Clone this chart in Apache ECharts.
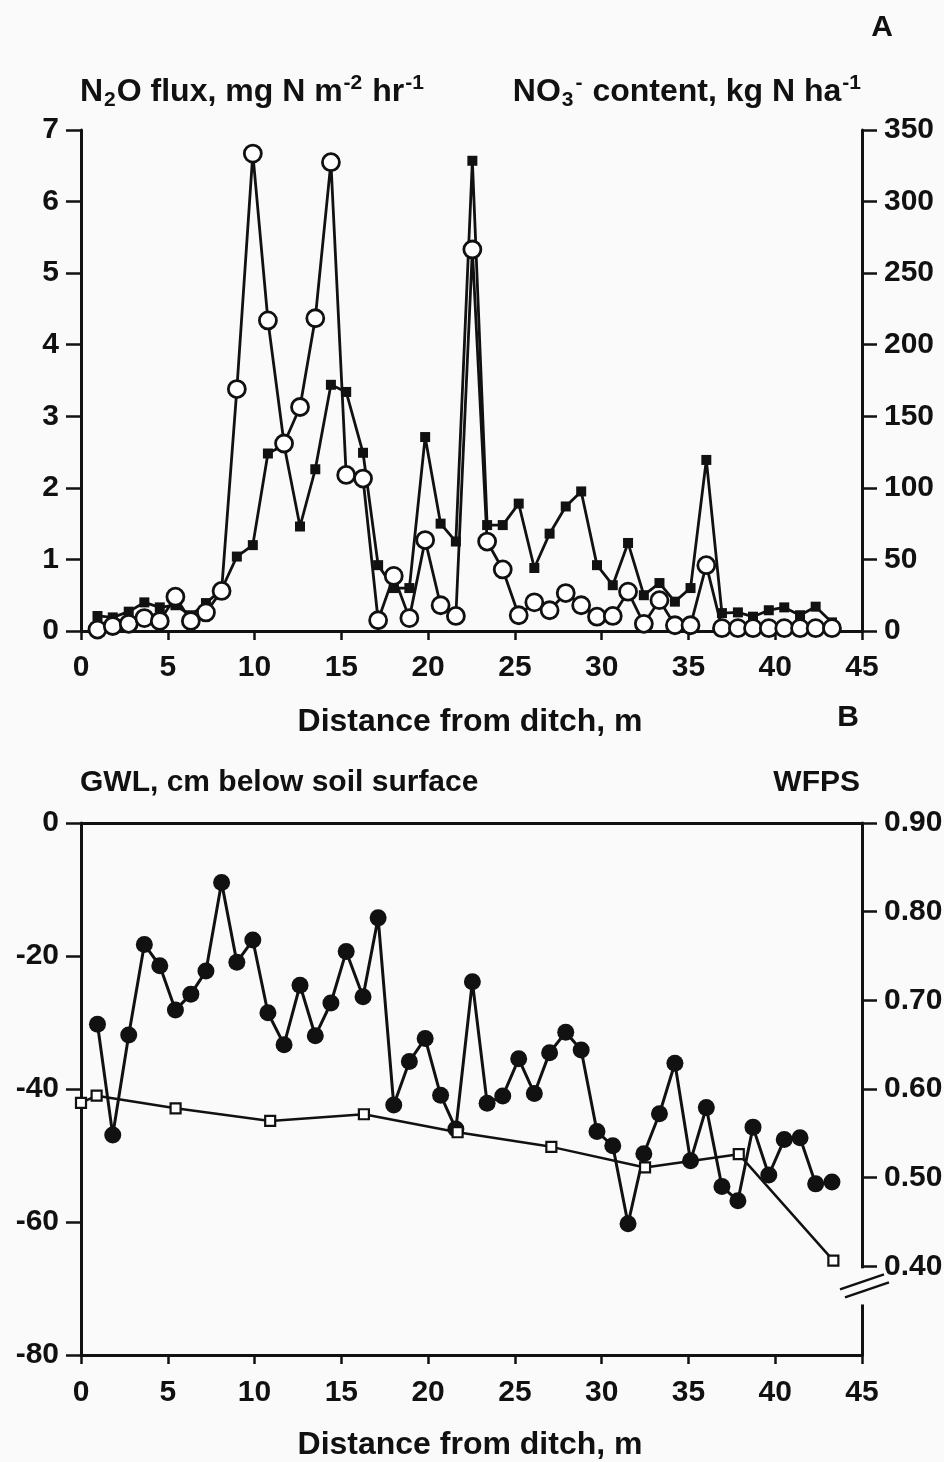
<!DOCTYPE html>
<html>
<head>
<meta charset="utf-8">
<script src="https://cdn.jsdelivr.net/npm/echarts@6/dist/echarts.min.js"></script>
<style>
html,body{margin:0;padding:0;background:#fafafa;}
#c{width:944px;height:1462px;}
</style>
</head>
<body>
<div id="c"></div>
<script>
// ---- Data ----
// Sampling distances from ditch (m), shared by panel A series and WFPS
const distanceM = [0.95, 1.83, 2.75, 3.65, 4.54, 5.44, 6.33, 7.2, 8.1, 8.98, 9.9, 10.77, 11.7, 12.62, 13.5, 14.4, 15.28, 16.25, 17.12, 18.02, 18.92, 19.83, 20.72, 21.6, 22.55, 23.4, 24.3, 25.22, 26.12, 27.0, 27.93, 28.82, 29.73, 30.64, 31.52, 32.43, 33.33, 34.22, 35.12, 36.03, 36.93, 37.85, 38.72, 39.63, 40.52, 41.43, 42.33, 43.27];
// Panel A: N2O flux (mg N m-2 hr-1), open circles, left axis
const n2oFlux = [0.02, 0.07, 0.1, 0.18, 0.14, 0.48, 0.14, 0.26, 0.56, 3.38, 6.67, 4.34, 2.62, 3.13, 4.37, 6.55, 2.18, 2.13, 0.15, 0.77, 0.18, 1.27, 0.36, 0.21, 5.33, 1.25, 0.86, 0.22, 0.4, 0.29, 0.53, 0.36, 0.2, 0.21, 0.55, 0.1, 0.43, 0.08, 0.08, 0.92, 0.04, 0.04, 0.04, 0.04, 0.04, 0.04, 0.04, 0.04];
// Panel A: NO3- content (kg N ha-1), filled squares, right axis
const no3Content = [10.5, 9.5, 13.5, 20, 16.5, 18, 11, 19.5, 29, 52, 60, 124, 130, 73, 113, 172, 167, 124.5, 46, 30, 30, 135.5, 75, 62.5, 328.5, 74, 74, 89, 44, 68, 87, 97.5, 46, 32, 61.5, 25, 33.5, 20.5, 30, 119.5, 12.5, 13, 10, 14.5, 16.5, 11, 17, 6];
// Panel B: WFPS, filled circles, right axis
const wfps = [0.673, 0.548, 0.661, 0.763, 0.739, 0.689, 0.707, 0.733, 0.833, 0.743, 0.768, 0.686, 0.650, 0.717, 0.660, 0.697, 0.755, 0.704, 0.793, 0.582, 0.631, 0.657, 0.593, 0.555, 0.721, 0.584, 0.592, 0.634, 0.595, 0.641, 0.664, 0.644, 0.552, 0.536, 0.448, 0.527, 0.572, 0.629, 0.519, 0.579, 0.490, 0.474, 0.557, 0.503, 0.543, 0.545, 0.493, 0.495];
// Panel B: GWL (cm below soil surface), open squares, left axis
const gwlDistance = [0, 0.9, 5.45, 10.9, 16.3, 21.7, 27.1, 32.5, 37.9, 43.35];
const gwlDepth = [-42.1, -41.0, -42.9, -44.8, -43.8, -46.5, -48.7, -51.8, -49.8, -65.8];
// Axis ticks
const distanceTicks = [0, 45, 5];      // min, max, interval
const n2oTicks = [0, 7, 1];
const no3Ticks = [0, 350, 50];
const gwlTicks = [-80, 0, 20];
const wfpsLabels = [0.4, 0.5, 0.6, 0.7, 0.8, 0.9];

// ---- Styling ----
const INK = '#111';
const BG = '#fafafa';
const FONT = 'Liberation Sans, Arial, Helvetica, sans-serif';
const labelStyle = {color: INK, fontSize: 30, fontWeight: 'bold', fontFamily: FONT};

function xAxisCfg(grid, extra) {
  return Object.assign({
    gridIndex: grid, type: 'value',
    min: distanceTicks[0], max: distanceTicks[1], interval: distanceTicks[2],
    axisLine: {show: true, onZero: false, lineStyle: {color: INK, width: 3}},
    axisTick: {show: true, inside: false, length: 9, lineStyle: {color: INK, width: 2.5}},
    axisLabel: Object.assign({margin: 22}, labelStyle),
    splitLine: {show: false}
  }, extra || {});
}
function yAxisCfg(grid, pos, t, extra) {
  return Object.assign({
    gridIndex: grid, type: 'value', position: pos,
    min: t[0], max: t[1], interval: t[2],
    axisLine: {show: true, onZero: false, lineStyle: {color: INK, width: 3}},
    axisTick: {show: true, inside: false, length: 15, lineStyle: {color: INK, width: 2.5}},
    axisLabel: Object.assign({margin: 22}, labelStyle),
    splitLine: {show: false}
  }, extra || {});
}

const chart = echarts.init(document.getElementById('c'), null, {renderer: 'canvas', width: 944, height: 1462});

const option = {
  animation: false,
  backgroundColor: BG,
  textStyle: {fontFamily: FONT},
  grid: [
    {left: 81, right: 82, top: 130, height: 501, outerBoundsMode: 'none', containLabel: false},
    {left: 81, right: 82, top: 823, height: 532, outerBoundsMode: 'none', containLabel: false}
  ],
  xAxis: [
    xAxisCfg(0),
    xAxisCfg(1, {axisLabel: Object.assign({margin: 23}, labelStyle)}),
    xAxisCfg(1, {position: 'top', axisTick: {show: false}, axisLabel: {show: false}})
  ],
  yAxis: [
    yAxisCfg(0, 'left', n2oTicks),
    yAxisCfg(0, 'right', no3Ticks),
    yAxisCfg(1, 'left', gwlTicks),
    yAxisCfg(1, 'right', [0.3, 0.9, 0.1], {
      axisTick: {show: true, inside: false, length: 15, customValues: wfpsLabels, lineStyle: {color: INK, width: 2.5}},
      axisLabel: Object.assign({margin: 22, customValues: wfpsLabels, formatter: v => Number(v).toFixed(2)}, labelStyle)
    })
  ],
  series: [
    {
      name: 'NO3 content', type: 'line', xAxisIndex: 0, yAxisIndex: 1,
      data: distanceM.map((d, i) => [d, no3Content[i]]),
      symbol: 'rect', symbolSize: 10, showAllSymbol: true,
      itemStyle: {color: INK}, lineStyle: {color: INK, width: 2.8}, z: 2
    },
    {
      name: 'N2O flux', type: 'line', xAxisIndex: 0, yAxisIndex: 0,
      data: distanceM.map((d, i) => [d, n2oFlux[i]]),
      symbol: 'circle', symbolSize: 17, showAllSymbol: true,
      itemStyle: {color: '#fff', borderColor: INK, borderWidth: 2.8}, lineStyle: {color: INK, width: 2.8}, z: 3
    },
    {
      name: 'WFPS', type: 'line', xAxisIndex: 1, yAxisIndex: 3,
      data: distanceM.map((d, i) => [d, wfps[i]]),
      symbol: 'circle', symbolSize: 17, showAllSymbol: true,
      itemStyle: {color: INK}, lineStyle: {color: INK, width: 3}, z: 2
    },
    {
      name: 'GWL', type: 'line', xAxisIndex: 1, yAxisIndex: 2,
      data: gwlDistance.map((d, i) => [d, gwlDepth[i]]),
      symbol: 'rect', symbolSize: 10, showAllSymbol: true,
      itemStyle: {color: '#fff', borderColor: INK, borderWidth: 2.2}, lineStyle: {color: INK, width: 2.5}, z: 3
    }
  ]
};
chart.setOption(option);

// ---- Text and the axis-break decoration ----
const rich = {
  n: {fontSize: 32, fontWeight: 'bold', fontFamily: FONT, fill: INK, lineHeight: 38},
  sup: {fontSize: 21, fontWeight: 'bold', fontFamily: FONT, fill: INK, lineHeight: 21, verticalAlign: 'top', padding: [0, 1, 0, 1]},
  sub: {fontSize: 21, fontWeight: 'bold', fontFamily: FONT, fill: INK, lineHeight: 21, verticalAlign: 'bottom', padding: [0, 1, 0, 1]}
};
function txt(text, x, y, align, size) {
  return {type: 'text', x: x, y: y, z: 50, silent: true,
    style: {text: text, fill: INK, font: 'bold ' + (size || 30) + 'px ' + FONT, align: align || 'left', verticalAlign: 'middle'}};
}
const xR = chart.convertToPixel({xAxisIndex: 1}, distanceTicks[1]);
const yGap0 = chart.convertToPixel({yAxisIndex: 3}, 0.4);
const yGap1 = chart.convertToPixel({yAxisIndex: 3}, 0.357);
const yMid = (yGap0 + yGap1) / 2;

chart.setOption({
  graphic: [
    txt('A', 882, 28, 'center'),
    {type: 'text', x: 80, y: 92, z: 50, silent: true,
      style: {text: '{n|N}{sub|2}{n|O flux, mg N m}{sup|-2}{n| hr}{sup|-1}', rich: rich, verticalAlign: 'middle', align: 'left'}},
    {type: 'text', x: 862, y: 92, z: 50, silent: true,
      style: {text: '{n|NO}{sub|3}{sup|-}{n| content, kg N ha}{sup|-1}', rich: rich, verticalAlign: 'middle', align: 'right'}},
    txt('Distance from ditch, m', 470, 722, 'center', 32),
    txt('B', 848, 718, 'center'),
    txt('GWL, cm below soil surface', 80, 783, 'left'),
    txt('WFPS', 860, 783, 'right'),
    txt('Distance from ditch, m', 470, 1445, 'center', 32),
    // gap in the right axis line
    {type: 'rect', z: 60, silent: true, shape: {x: xR - 5, y: yGap0 + 2, width: 10, height: yGap1 - yGap0 - 2},
      style: {fill: BG}},
    {type: 'line', z: 61, silent: true, shape: {x1: xR - 22, y1: yMid + 4, x2: xR + 22, y2: yMid - 11},
      style: {stroke: INK, lineWidth: 2.5}},
    {type: 'line', z: 61, silent: true, shape: {x1: xR - 17, y1: yMid + 12, x2: xR + 27, y2: yMid - 3},
      style: {stroke: INK, lineWidth: 2.5}}
  ]
});
</script>
</body>
</html>
